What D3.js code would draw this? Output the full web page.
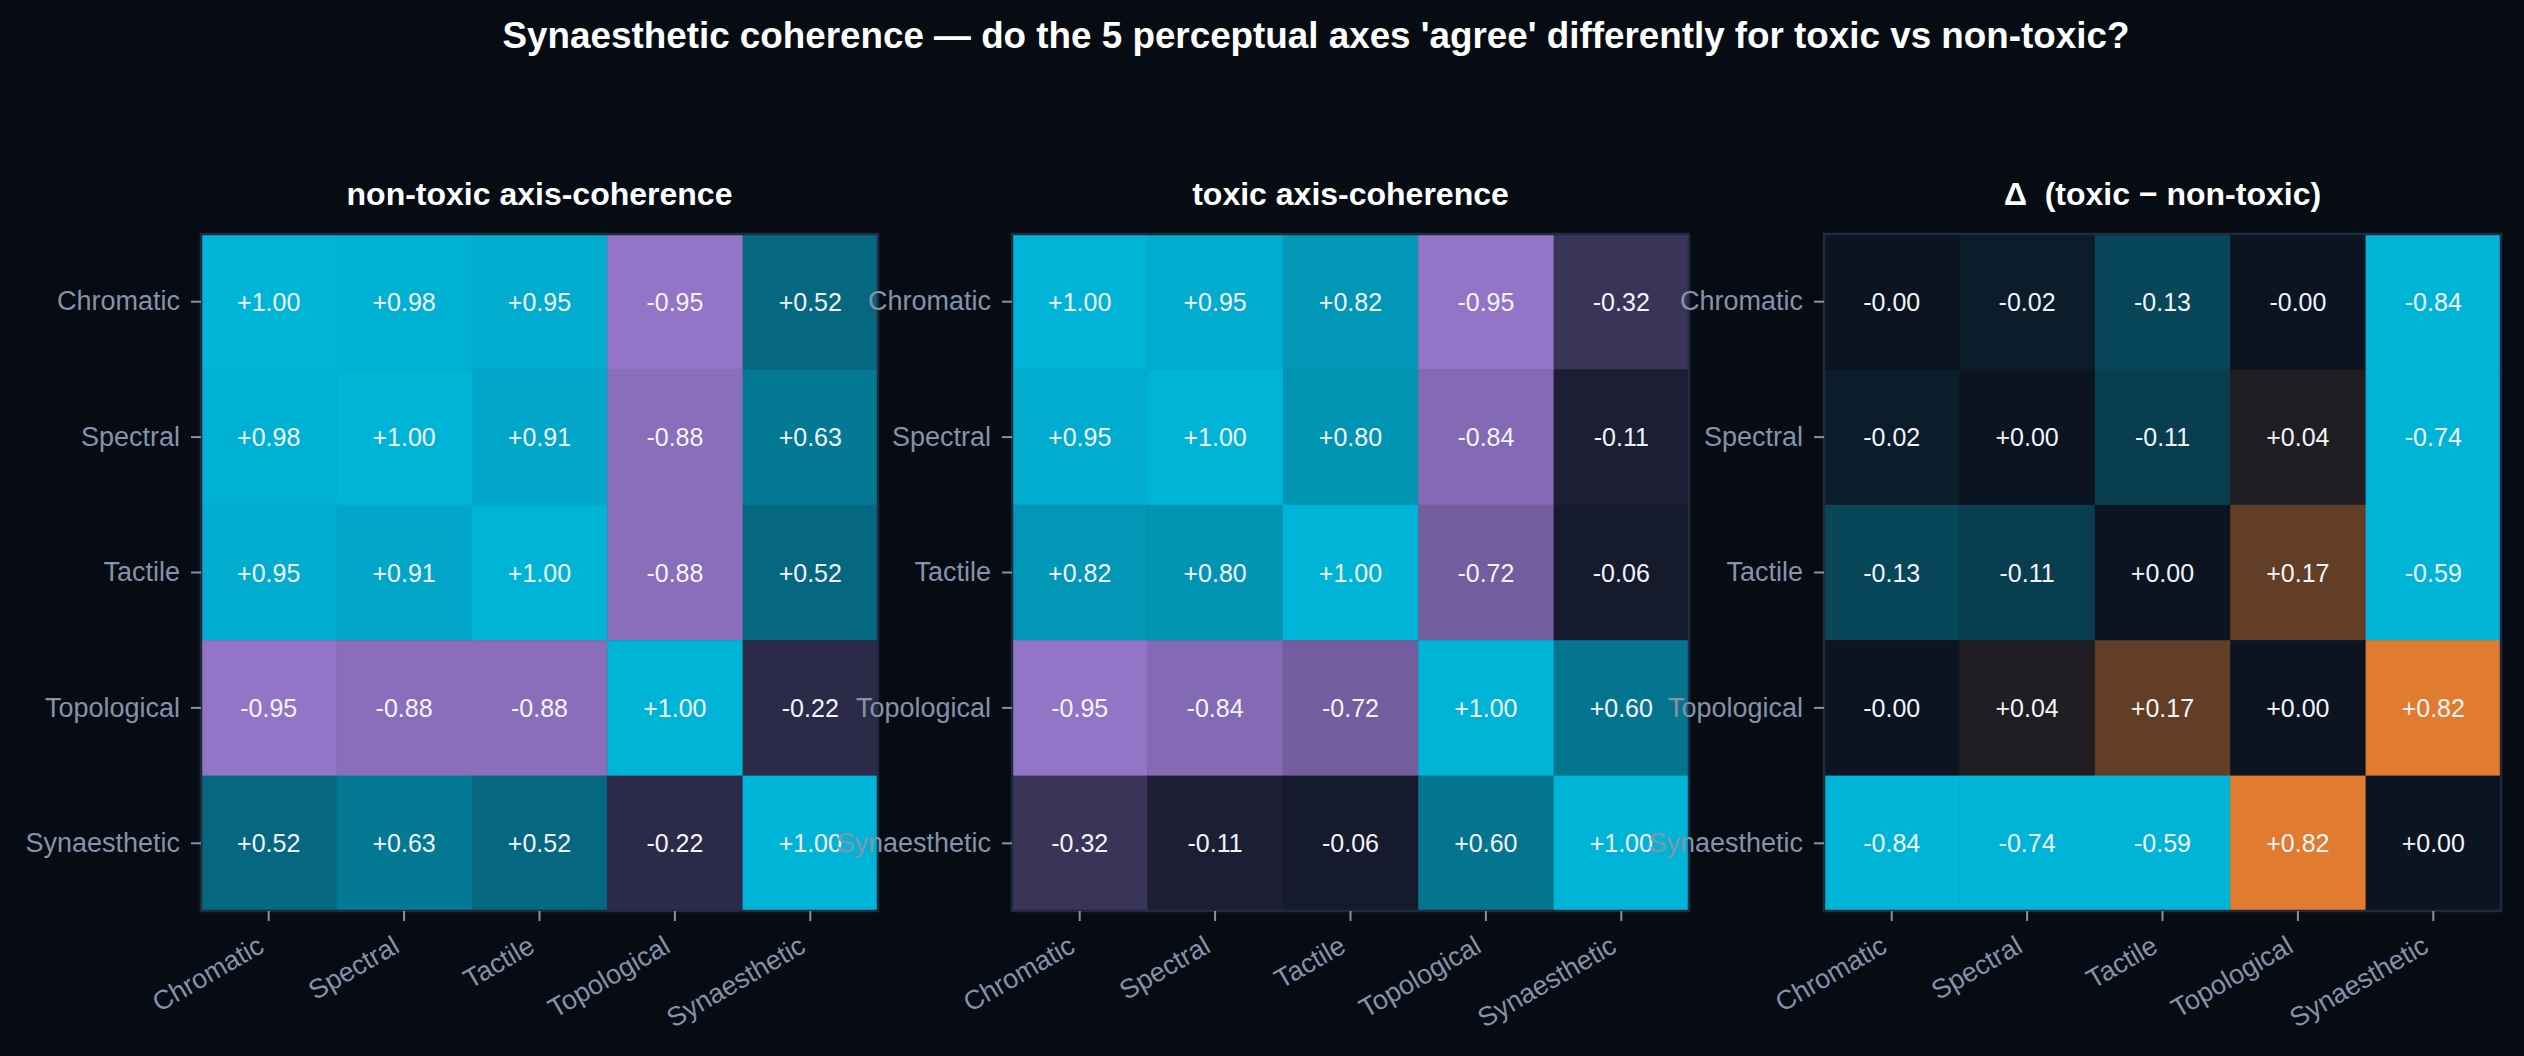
<!DOCTYPE html>
<html lang="en">
<head>
    <meta charset="UTF-8">
    <title>Synaesthetic coherence</title>
    <style>
        body {
            margin: 0;
            background-color: #070b14;
            font-family: 'Liberation Sans', Arial, sans-serif;
        }
        .tick text {
            fill: #8493a8;
            font-size: 27px;
            font-family: 'Liberation Sans', Arial, sans-serif;
        }
        .tick line {
            stroke: #8493a8;
            stroke-width: 2;
        }
        .ptitle {
            white-space: pre;
        }
    </style>
</head>
<body>
    <div id="chart"></div>
    <script src="https://d3js.org/d3.v7.min.js"></script>
    <script>
        const width = 2524;
        const height = 1056;

        const axes = ["Chromatic", "Spectral", "Tactile", "Topological", "Synaesthetic"];

        // correlation between perceptual axes, non-toxic set
        const nonToxic = [
            [1.00, 0.98, 0.95, -0.95, 0.52],
            [0.98, 1.00, 0.91, -0.88, 0.63],
            [0.95, 0.91, 1.00, -0.88, 0.52],
            [-0.95, -0.88, -0.88, 1.00, -0.22],
            [0.52, 0.63, 0.52, -0.22, 1.00]
        ];

        // same, toxic set
        const toxic = [
            [1.00, 0.95, 0.82, -0.95, -0.32],
            [0.95, 1.00, 0.80, -0.84, -0.11],
            [0.82, 0.80, 1.00, -0.72, -0.06],
            [-0.95, -0.84, -0.72, 1.00, 0.60],
            [-0.32, -0.11, -0.06, 0.60, 1.00]
        ];

        // toxic - non-toxic (as printed, -0 keeps the minus sign)
        const delta = [
            [-0.00, -0.02, -0.13, -0.00, -0.84],
            [-0.02, 0.00, -0.11, 0.04, -0.74],
            [-0.13, -0.11, 0.00, 0.17, -0.59],
            [-0.00, 0.04, 0.17, 0.00, 0.82],
            [-0.84, -0.74, -0.59, 0.82, 0.00]
        ];

        const panelTitles = ["non-toxic axis-coherence", "toxic axis-coherence", "\u0394  (toxic \u2212 non-toxic)"];
        const deltaLimit = 0.42;

        const svg = d3.select("#chart")
            .append("svg")
            .attr("width", width)
            .attr("height", height);

        const cohColor = d3.scaleLinear()
            .domain([-1, 0, 1])
            .range(["#9b79d0", "#0c1421", "#00b4d8"])
            .clamp(true);

        const deltaColor = d3.scaleLinear()
            .domain([-deltaLimit, 0, deltaLimit])
            .range(["#00b4d8", "#0c1421", "#e07b30"])
            .clamp(true);

        const fmt = v => (v < 0 || Object.is(v, -0) ? "-" : "+") + Math.abs(v).toFixed(2);

        svg.append("text")
            .attr("x", 1316)
            .attr("y", 48)
            .attr("text-anchor", "middle")
            .attr("fill", "#ffffff")
            .attr("font-size", 36.8)
            .attr("font-weight", "bold")
            .text("Synaesthetic coherence \u2014 do the 5 perceptual axes 'agree' differently for toxic vs non-toxic?");

        const panelX = [201, 1012, 1824];
        const panelTop = 234;
        const size = 677;

        const panels = [
            { data: nonToxic, color: cohColor },
            { data: toxic, color: cohColor },
            { data: delta, color: deltaColor }
        ];

        panels.forEach((p, k) => {
            const g = svg.append("g")
                .attr("transform", `translate(${panelX[k]},${panelTop})`);

            const x = d3.scaleBand().domain(axes).range([0, size]);
            const y = d3.scaleBand().domain(axes).range([0, size]);

            const cells = [];
            p.data.forEach((row, i) => row.forEach((v, j) => cells.push({ r: axes[i], c: axes[j], v })));

            g.selectAll("rect.cell")
                .data(cells)
                .enter().append("rect")
                .attr("class", "cell")
                .attr("x", d => x(d.c))
                .attr("y", d => y(d.r))
                .attr("width", x.bandwidth() + 0.5)
                .attr("height", y.bandwidth() + 0.5)
                .attr("fill", d => p.color(d.v));

            g.selectAll("text.val")
                .data(cells)
                .enter().append("text")
                .attr("class", "val")
                .attr("x", d => x(d.c) + x.bandwidth() / 2)
                .attr("y", d => y(d.r) + y.bandwidth() / 2)
                .attr("dy", "0.36em")
                .attr("text-anchor", "middle")
                .attr("fill", "#f2f4f8")
                .attr("font-size", 25)
                .text(d => fmt(d.v));

            g.append("rect")
                .attr("x", 0)
                .attr("y", 0)
                .attr("width", size)
                .attr("height", size)
                .attr("fill", "none")
                .attr("stroke", "#1e2a3e")
                .attr("stroke-width", 2.5);

            const xAxis = g.append("g")
                .attr("transform", `translate(0,${size})`)
                .call(d3.axisBottom(x).tickSize(10));
            xAxis.select(".domain").remove();
            xAxis.selectAll(".tick text")
                .attr("x", 0)
                .attr("y", 0)
                .attr("dy", 0)
                .attr("text-anchor", "end")
                .attr("transform", "translate(-3,40) rotate(-30)");

            const yAxis = g.append("g")
                .call(d3.axisLeft(y).tickSize(10).tickPadding(11));
            yAxis.select(".domain").remove();

            g.append("text")
                .attr("class", "ptitle")
                .attr("x", size / 2)
                .attr("y", -29)
                .attr("text-anchor", "middle")
                .attr("fill", "#ffffff")
                .attr("font-size", 32)
                .attr("font-weight", "bold")
                .text(panelTitles[k]);
        });
    </script>
</body>
</html>
